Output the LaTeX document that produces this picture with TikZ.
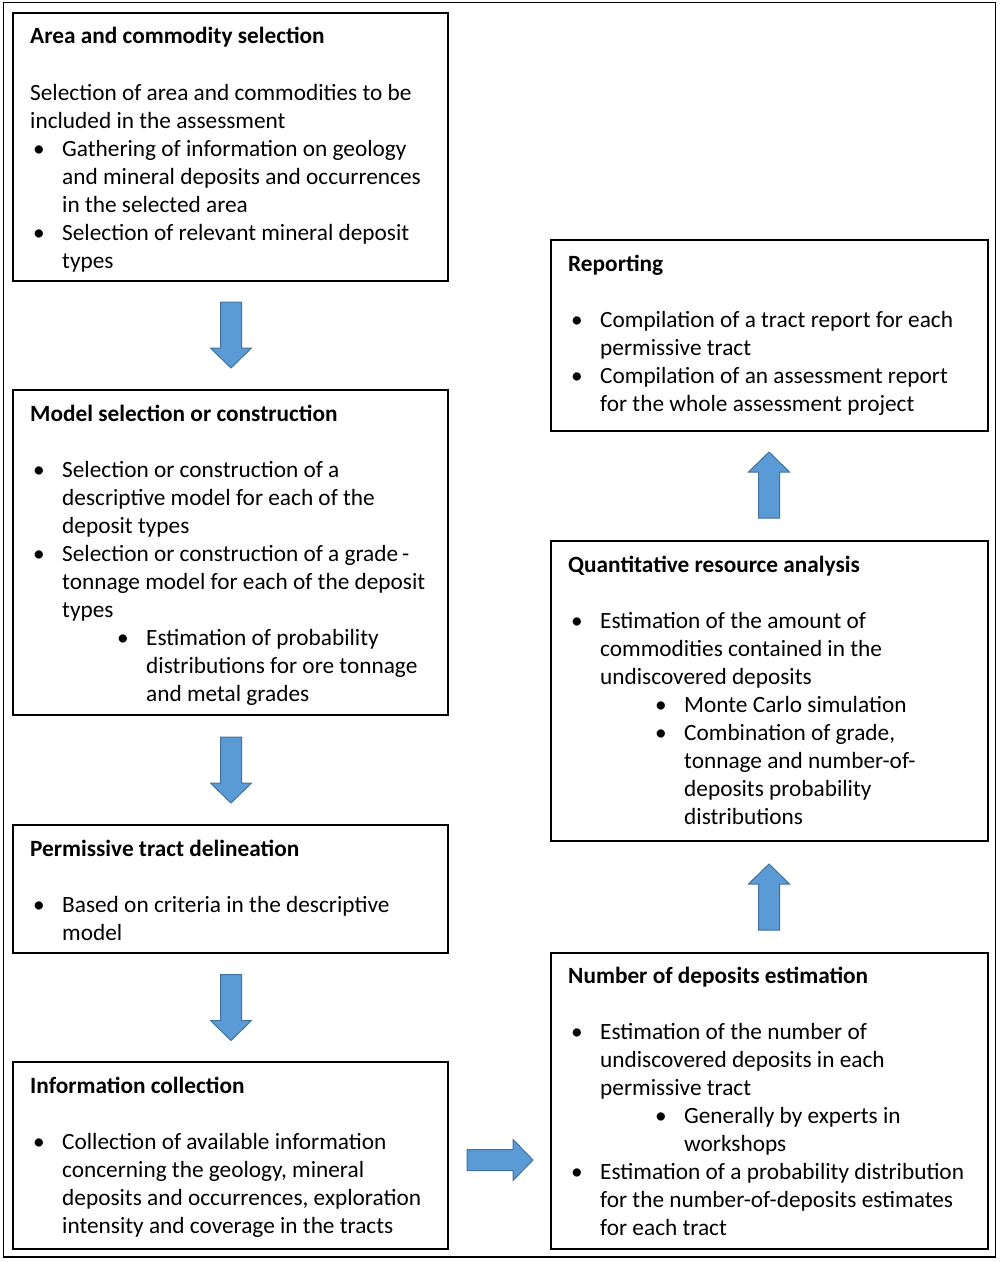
\documentclass[tikz,border=0pt]{standalone}
\usepackage{fontspec}
\setmainfont{Carlito}
\usetikzlibrary{calc}
\definecolor{arrowfill}{RGB}{91,155,213}
\definecolor{arrowline}{RGB}{65,113,156}
\newcommand\bitem[1]{\hspace*{3pt}\makebox[29pt][l]{•}#1}
\newcommand\bcont[1]{\hspace*{32pt}#1}
\newcommand\sbitem[1]{\hspace*{87pt}\makebox[29pt][l]{•}#1}
\newcommand\sbcont[1]{\hspace*{116pt}#1}
\newcommand\lines[1]{\begin{tabular}[t]{@{}l@{}}#1\end{tabular}}
\begin{document}
\begin{tikzpicture}[x=1pt,y=-1pt,
  box/.style={draw=black,line width=2pt,inner sep=0pt},
  ttl/.style={anchor=base west,inner sep=0pt,font=\fontsize{23.3}{28}\selectfont\bfseries},
  body/.style={anchor=base west,inner sep=0pt,font=\fontsize{23.3}{28}\selectfont},
  blockarrow/.pic={\draw[fill=arrowfill,draw=arrowline,line width=1pt,line join=miter]
     (-10.5,-33) -- (10.5,-33) -- (10.5,13) -- (20.5,13) -- (0,33) -- (-20.5,13) -- (-10.5,13) -- cycle;}
]
\useasboundingbox (0,0) rectangle (1000,1262);
\draw[line width=1.5pt] (3.5,2.5) rectangle (995.5,1257);

% left column boxes
\draw[box] (13,12.5) rectangle (448,281);
\node[ttl] (b1t) at (30,43) {Area and commodity selection};
\node[body] (b1b) at (30,100) {\lines{%
Selection of area and commodities to be\\
included in the assessment\\
\bitem{Gathering of information on geology}\\
\bcont{and mineral deposits and occurrences}\\
\bcont{in the selected area}\\
\bitem{Selection of relevant mineral deposit}\\
\bcont{types}}};

\draw[box] (13,390) rectangle (448,715);
\node[ttl] (b2t) at (30,421.5) {Model selection or construction};
\node[body] (b2b) at (30,477.5) {\lines{%
\bitem{Selection or construction of a}\\
\bcont{descriptive model for each of the}\\
\bcont{deposit types}\\
\bitem{Selection or construction of a grade\,-}\\
\bcont{tonnage model for each of the deposit}\\
\bcont{types}\\
\sbitem{Estimation of probability}\\
\sbcont{distributions for ore tonnage}\\
\sbcont{and metal grades}}};

\draw[box] (13,825) rectangle (448,953);
\node[ttl] (b3t) at (30,856) {Permissive tract delineation};
\node[body] (b3b) at (30,912) {\lines{%
\bitem{Based on criteria in the descriptive}\\
\bcont{model}}};

\draw[box] (13,1062) rectangle (448,1249);
\node[ttl] (b4t) at (30,1093) {Information collection};
\node[body] (b4b) at (30,1149.5) {\lines{%
\bitem{Collection of available information}\\
\bcont{concerning the geology, mineral}\\
\bcont{deposits and occurrences, exploration}\\
\bcont{intensity and coverage in the tracts}}};

% right column boxes
\draw[box] (551,240) rectangle (988,431);
\node[ttl] (r1t) at (568,271.5) {Reporting};
\node[body] (r1b) at (568,327.5) {\lines{%
\bitem{Compilation of a tract report for each}\\
\bcont{permissive tract}\\
\bitem{Compilation of an assessment report}\\
\bcont{for the whole assessment project}}};

\draw[box] (551,541) rectangle (988,841);
\node[ttl] (r2t) at (568,572.5) {Quantitative resource analysis};
\node[body] (r2b) at (568,628.5) {\lines{%
\bitem{Estimation of the amount of}\\
\bcont{commodities contained in the}\\
\bcont{undiscovered deposits}\\
\sbitem{Monte Carlo simulation}\\
\sbitem{Combination of grade,}\\
\sbcont{tonnage and number-of-}\\
\sbcont{deposits probability}\\
\sbcont{distributions}}};

\draw[box] (551,953) rectangle (988,1249);
\node[ttl] (r3t) at (568,983.5) {Number of deposits estimation};
\node[body] (r3b) at (568,1039.5) {\lines{%
\bitem{Estimation of the number of}\\
\bcont{undiscovered deposits in each}\\
\bcont{permissive tract}\\
\sbitem{Generally by experts in}\\
\sbcont{workshops}\\
\bitem{Estimation of a probability distribution}\\
\bcont{for the number-of-deposits estimates}\\
\bcont{for each tract}}};

% block arrows
\pic at (231,335) {blockarrow};
\pic at (231,770) {blockarrow};
\pic at (231,1007.5) {blockarrow};
\pic[rotate=90] at (500,1160) {blockarrow};
\pic[rotate=180] at (769,897) {blockarrow};
\pic[rotate=180] at (769,485) {blockarrow};
\end{tikzpicture}
\end{document}
